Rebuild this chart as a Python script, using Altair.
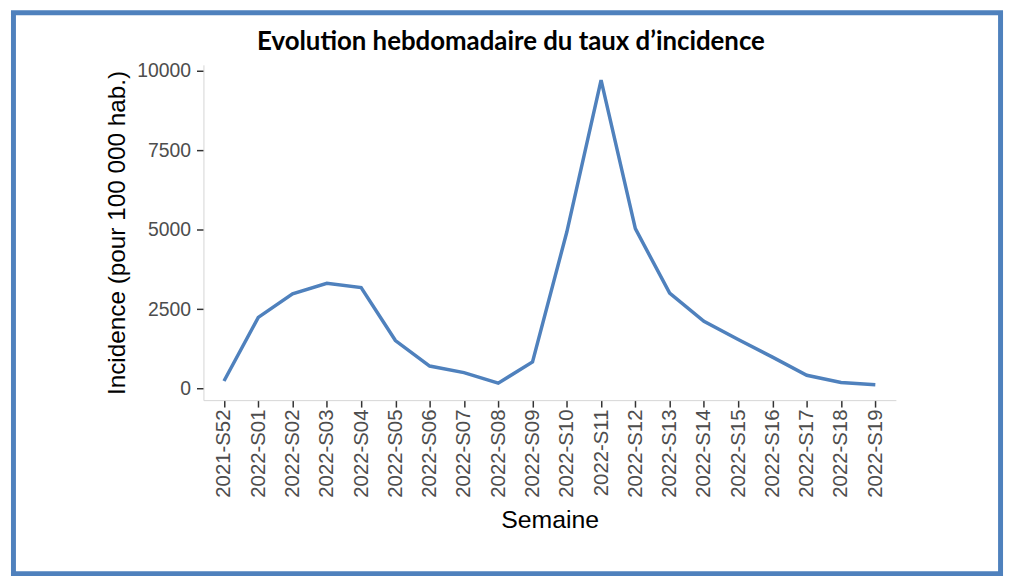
import altair as alt
import pandas as pd

weeks = ["2021-S52", "2022-S01", "2022-S02", "2022-S03", "2022-S04", "2022-S05",
         "2022-S06", "2022-S07", "2022-S08", "2022-S09", "2022-S10", "2022-S11",
         "2022-S12", "2022-S13", "2022-S14", "2022-S15", "2022-S16", "2022-S17",
         "2022-S18", "2022-S19"]
incidence = [237, 2237, 2978, 3312, 3175, 1509, 706, 500, 166, 837, 4925, 9707,
             5031, 3000, 2112, 1540, 987, 415, 187, 120]
y_ticks = [0, 2500, 5000, 7500, 10000]
title_text = "Evolution hebdomadaire du taux d\u2019incidence"
x_title = "Semaine"
y_title = "Incidence (pour 100 000 hab.)"

df = pd.DataFrame({"Semaine": weeks, "Incidence": incidence})

PLOT_W, PLOT_H = 698, 338
BLUE = "#4f81bd"
FONT = "Liberation Sans"

line = alt.Chart(df).mark_line(color=BLUE, strokeWidth=3.5).encode(
    x=alt.X("Semaine:N", sort=weeks,
            scale=alt.Scale(type="point", padding=0.6),
            axis=alt.Axis(title=x_title, labelAngle=-90, labelPadding=2,
                          labelFontSize=20.5, titleFontSize=25,
                          titleX=PLOT_W / 2, titleY=128,
                          titleBaseline="alphabetic")),
    y=alt.Y("Incidence:Q",
            scale=alt.Scale(domain=[-366, 10187], nice=False, zero=False),
            axis=alt.Axis(title=y_title, values=y_ticks, labelPadding=6,
                          format="d", labelFontSize=19.5, titleFontSize=24.5,
                          titleX=-80, titleY=PLOT_H / 2,
                          titleBaseline="alphabetic")),
)

frame = alt.Chart(pd.DataFrame({"k": [0]})).mark_rect(
    filled=False, stroke=BLUE, strokeWidth=5
).encode(
    x=alt.value(-191.5), x2=alt.value(803.5),
    y=alt.value(-52.5), y2=alt.value(513),
)

title = alt.Chart(pd.DataFrame({"t": [title_text]})).mark_text(
    font="Lato", fontSize=26, fontWeight="bold", color="black",
    align="center", baseline="alphabetic"
).encode(
    text="t:N", x=alt.value(310), y=alt.value(-15),
)

chart = alt.layer(line, title, frame).properties(
    width=PLOT_W, height=PLOT_H,
    autosize=alt.AutoSizeParams(type="none"),
    padding={"left": 197, "top": 55, "right": 112, "bottom": 175},
).configure_view(stroke=None).configure_axis(
    grid=False,
    domainColor="#d6d6d6", domainWidth=1,
    tickColor="#333333", tickWidth=1.5, tickSize=7,
    labelFont=FONT, labelColor="#4d4d4d",
    titleFont=FONT, titleColor="black",
    titleFontWeight="normal",
)

chart.save("out.html", embed_options={"renderer": "svg", "actions": False})
